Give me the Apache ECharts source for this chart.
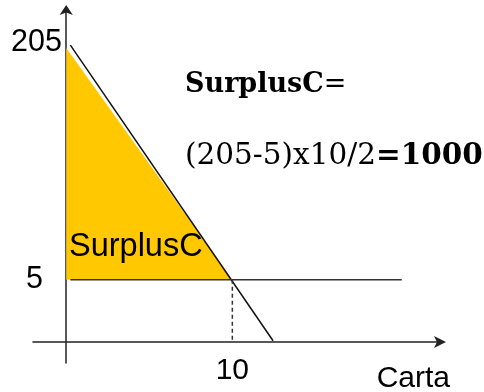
<!DOCTYPE html>
<html>
<head>
<meta charset="utf-8">
<script src="https://cdn.jsdelivr.net/npm/echarts@6/dist/echarts.min.js"></script>
<style>
  html, body { margin: 0; padding: 0; background: #fff; }
  #myChart { width: 484px; height: 392px; }
</style>
</head>
<body>
<div id="myChart"></div>
<script>
// 数据
let pMax = 205          // 需求曲线截距
let pEq = 5             // 价格
let qEq = 10            // 数量
let yTicks = [pEq, pMax]
let xTicks = [qEq]
let demand = [[0.25, 205], [12.45, -47]]
let priceLine = [[0.25, 5], [20.2, 5]]
let qtyLine = [[10, 5], [10, -48]]
let surplus = [[0, 202.6], [10, 5], [0, 5]]

let sans = '"Liberation Sans", Arial, sans-serif'
let serif = '"DejaVu Serif", serif'

let myChart = echarts.init(document.getElementById('myChart'))
myChart.setOption({
  animation: false,
  grid: { left: 33, right: 44, top: 10, bottom: 29, containLabel: false, outerBoundsMode: 'none' },
  xAxis: {
    type: 'value',
    min: -2, max: 22.5,
    name: 'Carta',
    nameLocation: 'end',
    nameGap: 10,
    nameTextStyle: {
      fontFamily: sans, fontSize: 30, color: '#000',
      align: 'right', verticalAlign: 'top', padding: [22, 0, 0, 0]
    },
    offset: -21,
    axisLine: {
      onZero: false,
      lineStyle: { color: '#222', width: 1.5 },
      symbol: ['none', 'arrow'], symbolSize: [9, 12], symbolOffset: [0, 6]
    },
    axisTick: { show: false },
    splitLine: { show: false },
    axisLabel: {
      customValues: xTicks,
      margin: 14,
      fontFamily: sans, fontSize: 30, color: '#000'
    }
  },
  yAxis: {
    type: 'value',
    min: -66, max: 235,
    axisLine: {
      onZero: true,
      lineStyle: { color: '#222', width: 1.5 },
      symbol: ['none', 'arrow'], symbolSize: [10, 10], symbolOffset: [0, 5]
    },
    axisTick: { show: false },
    splitLine: { show: false },
    axisLabel: {
      customValues: yTicks,
      margin: -29,
      fontFamily: sans, fontSize: 30, color: '#000',
      formatter: function (v) { return v === pEq ? '{p|' + v + '}' : '{t|' + v + '}' },
      rich: {
        t: { fontFamily: sans, fontSize: 30.5, color: '#000', padding: [0, 0, 6, 0] },
        p: { fontFamily: sans, fontSize: 30.5, color: '#000', padding: [0, 19, 0, 0] }
      }
    }
  },
  graphic: [
    {
      type: 'text', left: 185, top: 71, z: 10,
      style: {
        text: '{b|SurplusC}{r|=}',
        rich: {
          b: { fontFamily: serif, fontSize: 27, fontWeight: 'bold', fill: '#000' },
          r: { fontFamily: serif, fontSize: 27, fill: '#000' }
        }
      }
    },
    {
      type: 'text', left: 185, top: 141, z: 10,
      style: {
        text: '{r|(' + pMax + '-' + pEq + ')x' + qEq + '/2}{b|=' + (pMax - pEq) * qEq / 2 + '}',
        rich: {
          b: { fontFamily: serif, fontSize: 29.5, fontWeight: 'bold', fill: '#000' },
          r: { fontFamily: serif, fontSize: 29.5, fill: '#000' }
        }
      }
    },
    {
      type: 'text', left: 69, top: 231, z: 10,
      style: { text: 'SurplusC', font: '32.5px ' + sans, fill: '#000' }
    }
  ],
  series: [
    {
      type: 'custom',
      data: surplus,
      z: 1,
      renderItem: function (params, api) {
        if (params.dataIndex !== 0) return
        let pts = surplus.map(function (p) { return api.coord(p) })
        return { type: 'polygon', shape: { points: pts }, style: { fill: '#ffc800' } }
      }
    },
    {
      type: 'line', data: demand, symbol: 'none', z: 3,
      lineStyle: { color: '#111', width: 1.5 }
    },
    {
      type: 'line', data: priceLine, symbol: 'none', z: 3,
      lineStyle: { color: '#333', width: 1.5 }
    },
    {
      type: 'line', data: qtyLine, symbol: 'none', z: 3,
      lineStyle: { color: '#333', width: 1.5, type: [4, 3] }
    }
  ]
})
</script>
</body>
</html>
